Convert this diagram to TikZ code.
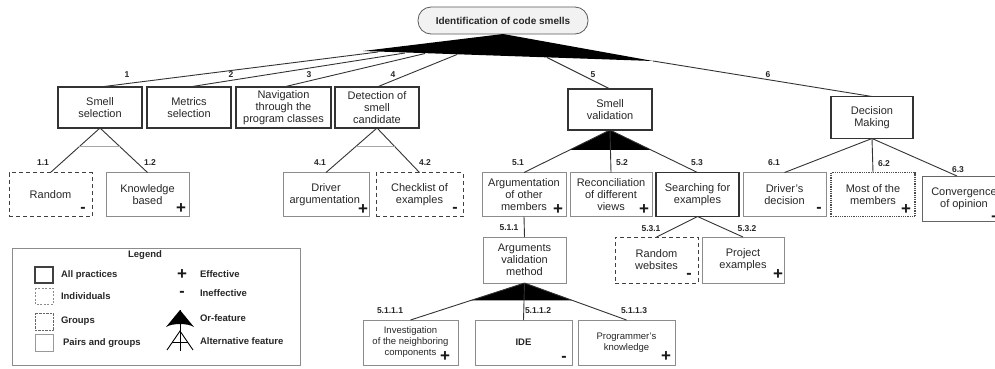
\documentclass[tikz,border=0pt]{standalone}
\usepackage{fontspec}
\setmainfont{Liberation Sans}
\usetikzlibrary{calc}
\begin{document}
\begin{tikzpicture}[x=1pt,y=-1pt,
  every node/.style={inner sep=0pt, outer sep=0pt},
  base/.style={draw, align=center, font=\fontsize{11}{12}\selectfont, text=black!85},
  allbox/.style={base, draw=black!80, line width=1.6pt},
  pairbox/.style={base, draw=black!45, line width=0.8pt},
  indbox/.style={base, draw=black!75, line width=1pt, dash pattern=on 4pt off 3pt},
  grpbox/.style={base, draw=black!70, line width=1.4pt, dash pattern=on 0.9pt off 0.9pt},
  small/.style={font=\fontsize{9.5}{11}\selectfont},
  lbl/.style={font=\bfseries\fontsize{8.5}{9}\selectfont, text=black!85},
  conn/.style={draw=black!80, line width=0.9pt},
  chord/.style={draw=black!35, line width=1.3pt},
  plusmark/.style={font=\bfseries\fontsize{17}{17}\selectfont, text=black!90},
  minusmark/.style={font=\bfseries\fontsize{16}{16}\selectfont, text=black!90},
  legtext/.style={font=\bfseries\fontsize{9.5}{11}\selectfont, text=black!85, anchor=west},
]
\useasboundingbox (0,0) rectangle (995,368);
\clip (0,0) rectangle (995,368);

% root
\node[draw=black!65, line width=0.8pt, fill=black!5, rounded corners=13pt,
      minimum width=170pt, minimum height=27pt,
      font=\bfseries\fontsize{10}{12}\selectfont, text=black!85] (root) at (503,20.5) {Identification of code smells};

% level 1
\node[allbox, minimum width=84pt, minimum height=41pt] (smell) at (100,107.5) {Smell\\selection};
\node[allbox, minimum width=84pt, minimum height=41pt] (metrics) at (189,107.5) {Metrics\\selection};
\node[allbox, minimum width=95pt, minimum height=41pt] (nav) at (283.5,107.5) {Navigation\\through the\\program classes};
\node[allbox, minimum width=84pt, minimum height=41pt] (detect) at (377,107.5) {Detection of\\smell\\candidate};
\node[allbox, minimum width=84pt, minimum height=41pt] (valid) at (610,109.5) {Smell\\validation};
\node[allbox, minimum width=82pt, minimum height=42pt] (decision) at (872,117.5) {Decision\\Making};

% level 2
\node[indbox, minimum width=83pt, minimum height=44pt] (random) at (50.5,194.5) {Random};
\node[pairbox, minimum width=83pt, minimum height=44pt] (knowledge) at (147.5,194.5) {Knowledge\\based};
\node[pairbox, minimum width=86pt, minimum height=44pt] (driverarg) at (326,194.5) {Driver\\argumentation\phantom{i}};
\node[indbox, minimum width=87pt, minimum height=44pt] (checklist) at (419.5,194.5) {Checklist of\\examples};
\node[pairbox, minimum width=84pt, minimum height=44pt] (argum) at (524,194.5) {Argumentation\\of other\\members};
\node[pairbox, minimum width=82pt, minimum height=44pt] (reconc) at (611,194.5) {Reconciliation\\of different\\views};
\node[allbox, minimum width=83pt, minimum height=44pt] (search) at (697.5,194.5) {Searching for\\examples};
\node[pairbox, minimum width=83pt, minimum height=44pt] (driverdec) at (784.5,194.5) {Driver's\\decision};
\node[grpbox, minimum width=84pt, minimum height=44pt] (most) at (873,194.5) {Most of the\\members};
\node[pairbox, draw=black!60, minimum width=84pt, minimum height=45pt] (conv) at (964,198.5) {Convergence\\of opinion};

% level 3
\node[pairbox, minimum width=83pt, minimum height=46pt] (argval) at (524.5,260) {Arguments\\validation\\method};
\node[indbox, minimum width=83pt, minimum height=46pt] (randweb) at (656.5,260) {Random\\websites};
\node[pairbox, minimum width=82pt, minimum height=46pt] (project) at (743,260) {Project\\examples};

% level 4
\node[pairbox, small, minimum width=95pt, minimum height=45pt] (invest) at (410.5,342.5) {Investigation\\of the neighboring\\components};
\node[pairbox, small, minimum width=97pt, minimum height=45pt] (ide) at (523.5,342.5) {\bfseries IDE};
\node[pairbox, small, minimum width=97pt, minimum height=45pt] (prog) at (626.5,342.5) {Programmer's\\knowledge};

% effectiveness marks
\node[minusmark] at ([xshift=-9pt,yshift=7pt]random.south east) {-};
\node[plusmark] at ([xshift=-8pt,yshift=8pt]knowledge.south east) {+};
\node[plusmark] at ([xshift=-6pt,yshift=7pt]driverarg.south east) {+};
\node[minusmark] at ([xshift=-8pt,yshift=7pt]checklist.south east) {-};
\node[plusmark] at ([xshift=-8pt,yshift=7pt]argum.south east) {+};
\node[plusmark] at ([xshift=-8pt,yshift=7pt]reconc.south east) {+};
\node[minusmark] at ([xshift=-7pt,yshift=7pt]driverdec.south east) {-};
\node[plusmark] at ([xshift=-9pt,yshift=7pt]most.south east) {+};
\node[plusmark] at ([xshift=32pt,yshift=3pt]conv.south) {+};
\node[minusmark] at ([xshift=-9pt,yshift=7pt]randweb.south east) {-};
\node[plusmark] at ([xshift=-6pt,yshift=8pt]project.south east) {+};
\node[plusmark] at ([xshift=-13pt,yshift=8pt]invest.south east) {+};
\node[minusmark] at ([xshift=-8pt,yshift=6pt]ide.south east) {-};
\node[plusmark] at ([xshift=-9pt,yshift=8pt]prog.south east) {+};

% top fan (or-feature)
\coordinate (fanL) at (363,51);
\coordinate (fanR) at (653,61);
\fill[black] (fanL) -- (root.south) -- (fanR) -- cycle;
\coordinate (f1) at (378,52);
\coordinate (f2) at (405,53);
\coordinate (f3) at (425,53.5);
\coordinate (f4) at (457,54.5);
\coordinate (f5) at (547,57.5);
\draw[conn] (f1) -- (smell.north);
\draw[conn] (f2) -- (metrics.north);
\draw[conn] (f3) -- (nav.north);
\draw[conn] (f4) -- (detect.north);
\draw[conn] (f5) -- (valid.north);
\draw[conn] (fanR) -- (decision.north);
\node[lbl] at (127,75) {1};
\node[lbl] at (231,75) {2};
\node[lbl] at (309,75) {3};
\node[lbl] at (393,75) {4};
\node[lbl] at (593,75) {5};
\node[lbl] at (768,75) {6};

% smell selection (alternative)
\draw[conn] (smell.south) -- (random.north);
\draw[conn] (smell.south) -- (knowledge.north);
\draw[chord] ($(smell.south)!0.42!(random.north)$) -- ($(smell.south)!0.42!(knowledge.north)$);
\node[lbl] at (43,163) {1.1};
\node[lbl] at (150,163) {1.2};

% detection (alternative)
\draw[conn] (detect.south) -- (driverarg.north);
\draw[conn] (detect.south) -- (checklist.north);
\draw[chord] ($(detect.south)!0.42!(driverarg.north)$) -- ($(detect.south)!0.42!(checklist.north)$);
\node[lbl] at (320,163) {4.1};
\node[lbl] at (425,163) {4.2};

% smell validation (or)
\fill[black] (valid.south) -- ($(valid.south)!0.47!(argum.north)$) -- ($(valid.south)!0.47!(search.north)$) -- cycle;
\draw[conn] (valid.south) -- (argum.north);
\draw[conn] (valid.south) -- (reconc.north);
\draw[conn] (valid.south) -- (search.north);
\node[lbl] at (518,163) {5.1};
\node[lbl] at (622,163) {5.2};
\node[lbl] at (697,163) {5.3};

% decision making
\draw[conn] (decision.south) -- (driverdec.north);
\draw[conn] (decision.south) -- (most.north);
\draw[conn] (decision.south) -- ([xshift=-7pt]conv.north);
\node[lbl] at (774,163) {6.1};
\node[lbl] at (884,164) {6.2};
\node[lbl] at (958,170) {6.3};

% argumentation -> arguments validation
\draw[conn] (argum.south) -- (argval.north);
\node[lbl] at (509,228) {5.1.1};

% searching (alternative, no chord)
\draw[conn] (search.south) -- (randweb.north);
\draw[conn] (search.south) -- (project.north);
\node[lbl] at (651,229) {5.3.1};
\node[lbl] at (747,229) {5.3.2};

% arguments validation (or)
\fill[black] (argval.south) -- ($(argval.south)!0.47!(invest.north)$) -- ($(argval.south)!0.47!(prog.north)$) -- cycle;
\draw[conn] (argval.south) -- (invest.north);
\draw[conn] (argval.south) -- (ide.north);
\draw[conn] (argval.south) -- (prog.north);
\node[lbl] at (390,311) {5.1.1.1};
\node[lbl] at (538,311) {5.1.1.2};
\node[lbl] at (634,311) {5.1.1.3};

% legend
\node[draw=black!45, line width=0.8pt, minimum width=288pt, minimum height=117pt] (legend) at (156,306.5) {};
\node[font=\bfseries\fontsize{9.5}{11}\selectfont, text=black!85] (legtitle) at (145,255) {Legend};
\draw[draw=black!75, line width=1.6pt] (35,267) rectangle (53,283);
\draw[draw=black!45, line width=0.6pt, dash pattern=on 2pt off 1.5pt] (35,288) rectangle (53,304);
\draw[draw=black!60, line width=0.8pt, dash pattern=on 0.7pt off 0.7pt] (35,313) rectangle (53,330);
\draw[draw=black!40, line width=0.6pt] (35,334) rectangle (53,351);
\node[legtext] at (61,275) {All practices};
\node[legtext] at (61,296) {Individuals};
\node[legtext] at (61,321) {Groups};
\node[legtext] at (63,343) {Pairs and groups};
\node[plusmark] at (182,275) {+};
\node[minusmark] at (182,294) {-};
\fill[black] (180,310) -- (166,327) .. controls (172,323) and (188,323) .. (194,327) -- cycle;
\draw[black, line width=0.9pt] (180,310) -- (180,331);
\draw[black, line width=0.9pt] (167,350) -- (180,331) -- (193,350);
\draw[black, line width=0.9pt] (180,331) -- (180,351);
\draw[black, line width=0.9pt] (172,342) -- (188,342);
\node[legtext] at (200,274) {Effective};
\node[legtext] at (200,293) {Ineffective};
\node[legtext] at (200,318) {Or-feature};
\node[legtext] at (200,341) {Alternative feature};
\end{tikzpicture}
\end{document}
